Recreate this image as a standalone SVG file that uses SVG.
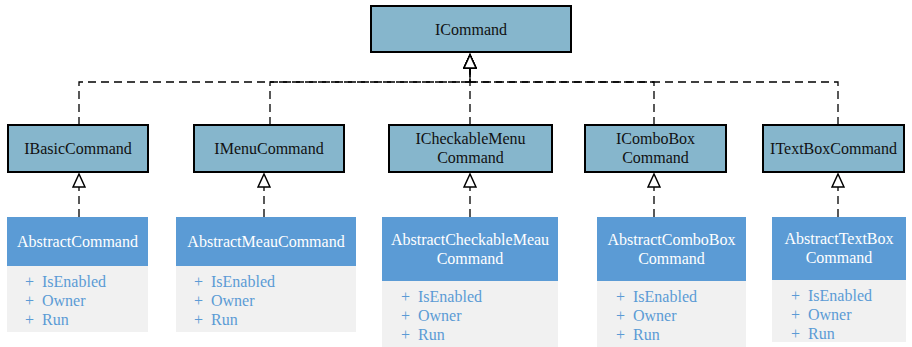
<svg xmlns="http://www.w3.org/2000/svg" width="912" height="347" viewBox="0 0 912 347" font-family="'Liberation Serif', 'Times New Roman', 'DejaVu Serif', serif" font-size="16">
<style>
.iface{fill:#86b6cc;stroke:#000;stroke-width:2}
.it{fill:#111;text-anchor:middle}
.hdr{fill:#5b9bd5}
.body{fill:#f1f1f1}
.ht{fill:#fff;text-anchor:middle}
.mt{fill:#5b9bd5}
.conn{fill:none;stroke:#000;stroke-width:1.3;stroke-dasharray:8,5}
</style>
<defs>
<marker id="tri" markerUnits="userSpaceOnUse" markerWidth="16" markerHeight="14" viewBox="-1 -1 16 14" refX="0" refY="6" orient="auto">
<path d="M0,0 L13,6 L0,12 z" fill="#fff" stroke="#000" stroke-width="1.5"/>
</marker>
</defs>

<g id="connectors">
<path class="conn" d="M79,125 V82 H470 V68" marker-end="url(#tri)"/>
<path class="conn" d="M270,125 V82 H470 V68" marker-end="url(#tri)"/>
<path class="conn" d="M470,125 V68" marker-end="url(#tri)"/>
<path class="conn" d="M654,125 V82 H470 V68" marker-end="url(#tri)"/>
<path class="conn" d="M838,125 V82 H470 V68" marker-end="url(#tri)"/>
<path class="conn" d="M79,217 V187" marker-end="url(#tri)"/>
<path class="conn" d="M264,217 V187" marker-end="url(#tri)"/>
<path class="conn" d="M470,217 V187" marker-end="url(#tri)"/>
<path class="conn" d="M654,217 V187" marker-end="url(#tri)"/>
<path class="conn" d="M838,217 V187" marker-end="url(#tri)"/>
</g>

<g id="ICommand">
<rect class="iface" x="371" y="6" width="200" height="46"/>
<text class="it" x="471" y="35">ICommand</text>
</g>

<g id="IBasicCommand">
<rect class="iface" x="8" y="125" width="140" height="47"/>
<text class="it" x="78" y="154">IBasicCommand</text>
</g>
<g id="IMenuCommand">
<rect class="iface" x="194" y="125" width="150" height="47"/>
<text class="it" x="269" y="154">IMenuCommand</text>
</g>
<g id="ICheckableMenuCommand">
<rect class="iface" x="389" y="125" width="163" height="47"/>
<text class="it" x="470.5" y="144">ICheckableMenu</text>
<text class="it" x="470.5" y="163">Command</text>
</g>
<g id="IComboBoxCommand">
<rect class="iface" x="585" y="125" width="141" height="47"/>
<text class="it" x="655.5" y="144">IComboBox</text>
<text class="it" x="655.5" y="163">Command</text>
</g>
<g id="ITextBoxCommand">
<rect class="iface" x="763" y="125" width="141" height="47"/>
<text class="it" x="833.5" y="154">ITextBoxCommand</text>
</g>

<g id="AbstractCommand">
<rect class="body" x="7" y="217" width="141" height="115"/>
<rect class="hdr" x="7" y="217" width="141" height="49"/>
<text class="ht" x="77.5" y="247">AbstractCommand</text>
<text class="mt" y="287"><tspan x="25">+</tspan><tspan x="42">IsEnabled</tspan></text>
<text class="mt" y="306"><tspan x="25">+</tspan><tspan x="42">Owner</tspan></text>
<text class="mt" y="325"><tspan x="25">+</tspan><tspan x="42">Run</tspan></text>
</g>
<g id="AbstractMeauCommand">
<rect class="body" x="176" y="217" width="180" height="115"/>
<rect class="hdr" x="176" y="217" width="180" height="49"/>
<text class="ht" x="266" y="247">AbstractMeauCommand</text>
<text class="mt" y="287"><tspan x="194">+</tspan><tspan x="211">IsEnabled</tspan></text>
<text class="mt" y="306"><tspan x="194">+</tspan><tspan x="211">Owner</tspan></text>
<text class="mt" y="325"><tspan x="194">+</tspan><tspan x="211">Run</tspan></text>
</g>
<g id="AbstractCheckableMeauCommand">
<rect class="body" x="382" y="217" width="176" height="130"/>
<rect class="hdr" x="382" y="217" width="176" height="64"/>
<text class="ht" x="470" y="245">AbstractCheckableMeau</text>
<text class="ht" x="470" y="264">Command</text>
<text class="mt" y="302"><tspan x="401">+</tspan><tspan x="418">IsEnabled</tspan></text>
<text class="mt" y="321"><tspan x="401">+</tspan><tspan x="418">Owner</tspan></text>
<text class="mt" y="340"><tspan x="401">+</tspan><tspan x="418">Run</tspan></text>
</g>
<g id="AbstractComboBoxCommand">
<rect class="body" x="597" y="217" width="149" height="130"/>
<rect class="hdr" x="597" y="217" width="149" height="64"/>
<text class="ht" x="671.5" y="245">AbstractComboBox</text>
<text class="ht" x="671.5" y="264">Command</text>
<text class="mt" y="302"><tspan x="616">+</tspan><tspan x="633">IsEnabled</tspan></text>
<text class="mt" y="321"><tspan x="616">+</tspan><tspan x="633">Owner</tspan></text>
<text class="mt" y="340"><tspan x="616">+</tspan><tspan x="633">Run</tspan></text>
</g>
<g id="AbstractTextBoxCommand">
<rect class="body" x="772" y="217" width="134" height="125"/>
<rect class="hdr" x="772" y="217" width="134" height="63"/>
<text class="ht" x="839" y="244">AbstractTextBox</text>
<text class="ht" x="839" y="263">Command</text>
<text class="mt" y="301"><tspan x="791">+</tspan><tspan x="808">IsEnabled</tspan></text>
<text class="mt" y="320"><tspan x="791">+</tspan><tspan x="808">Owner</tspan></text>
<text class="mt" y="339"><tspan x="791">+</tspan><tspan x="808">Run</tspan></text>
</g>
</svg>
